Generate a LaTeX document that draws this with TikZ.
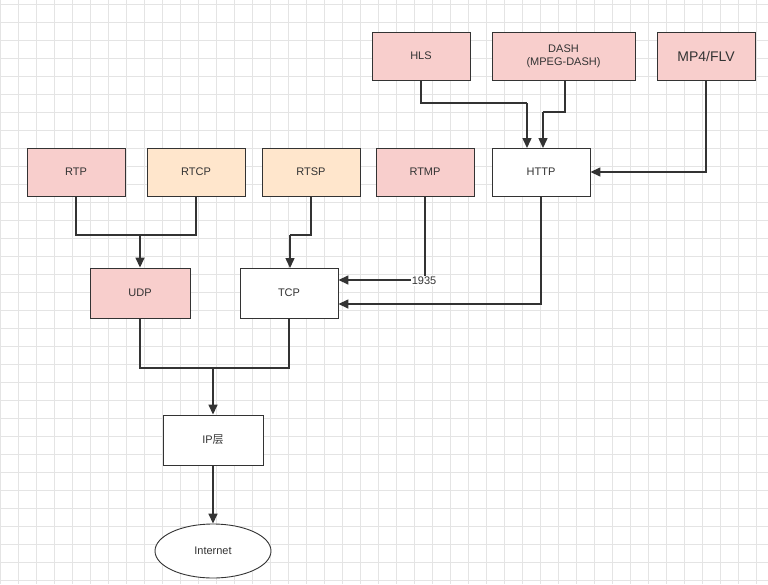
\documentclass[tikz,border=0pt]{standalone}
\usepackage{fontspec}
\setmainfont{Liberation Sans}
\newfontfamily\cjk{Noto Sans CJK SC}
\usetikzlibrary{arrows.meta,shapes.geometric}
\definecolor{pk}{HTML}{F8CECC}
\definecolor{pc}{HTML}{FFE6CC}
\definecolor{gr}{HTML}{E4E4E4}
\definecolor{ln}{HTML}{333333}
\begin{document}
\begin{tikzpicture}[x=1pt,y=-1pt,
  box/.style={draw=ln,line width=0.9pt,minimum width=98pt,minimum height=48pt,inner sep=1pt,align=center,font=\fontsize{11}{13}\selectfont,text=ln},
  wire/.style={draw=ln,line width=1.5pt},
  arr/.style={wire,-{Triangle[length=10pt,width=9pt]}}]
\useasboundingbox (0,0) rectangle (768,584);
\fill[white] (0,0) rectangle (768,584);
\foreach \x in {0,18,...,768} \draw[gr,line width=0.5pt] (\x,0) -- (\x,584);
\foreach \y in {4,22,...,584} \draw[gr,line width=0.5pt] (0,\y) -- (768,\y);
\node[box,fill=pk] (hls) at (421,56) {HLS};
\node[box,fill=pk,minimum width=143pt] (dash) at (563.5,56) {DASH\\(MPEG-DASH)};
\node[box,fill=pk,font=\fontsize{14}{16}\selectfont] (mp4) at (706,56) {MP4/FLV};
\node[box,fill=pk] (rtp) at (76,172) {RTP};
\node[box,fill=pc] (rtcp) at (196,172) {RTCP};
\node[box,fill=pc] (rtsp) at (311,172) {RTSP};
\node[box,fill=pk] (rtmp) at (425,172) {RTMP};
\node[box,fill=white] (http) at (541,172) {HTTP};
\node[box,fill=pk,minimum width=100pt,minimum height=50pt] (udp) at (140,293) {UDP};
\node[box,fill=white,minimum height=50pt] (tcp) at (289,293) {TCP};
\node[box,fill=white,minimum width=100pt,minimum height=50pt] (ip) at (213,440) {IP{\cjk 层}};
\node[ellipse,draw=ln,line width=0.9pt,fill=white,minimum width=116pt,minimum height=54pt,font=\fontsize{11}{13}\selectfont,text=ln] (inet) at (213,551) {Internet};
\coordinate (j1) at (140,235);
\coordinate (j2) at (213,368);
\draw[wire] (hls.south) |- (527,103) coordinate (h1);
\draw[arr] (h1) -- (527,148);
\draw[wire] (dash.south -| 565,0) |- (543,112) coordinate (d1);
\draw[arr] (d1) -- (543,148);
\draw[arr] (mp4.south) |- (http.east);
\draw[wire] (rtp.south) |- (j1);
\draw[wire] (rtcp.south) |- (j1);
\draw[arr] (j1) -- (udp.north);
\draw[wire] (rtsp.south) |- (290,235) coordinate (s1);
\draw[arr] (s1) -- (290,268);
\draw[arr] (rtmp.south) |- (tcp.east |- 0,280);
\node[font=\fontsize{11}{13}\selectfont,text=ln,fill=white,inner sep=1pt] (lbl) at (424,281) {1935};
\draw[arr] (http.south) |- (tcp.east |- 0,304);
\draw[wire] (udp.south) |- (j2);
\draw[wire] (tcp.south) |- (j2);
\draw[arr] (j2) -- (ip.north);
\draw[arr] (ip.south) -- (inet.north);
\end{tikzpicture}
\end{document}
